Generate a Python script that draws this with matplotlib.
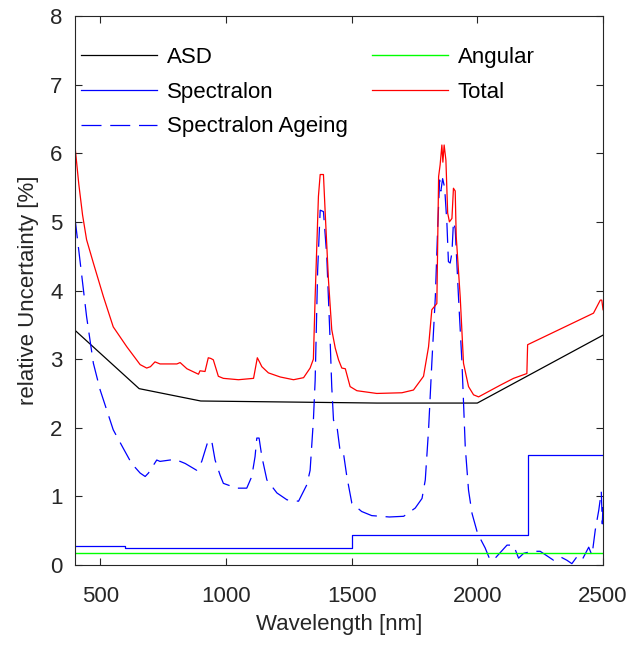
import matplotlib
matplotlib.use('Agg')
import matplotlib.pyplot as plt

plt.rcParams['font.family'] = ['Liberation Sans', 'DejaVu Sans']

# Data
asd_wl = [400, 655, 900, 1600, 2000, 2500]
asd_val = [3.42, 2.57, 2.39, 2.36, 2.36, 3.35]

spec_wl = [400, 600, 1500, 2200, 2500]
spec_val = [0.27, 0.25, 0.44, 1.60, 1.60]

ang_wl = [400, 2500]
ang_val = [0.17, 0.17]

age_wl = [400, 446, 473, 500, 526, 552, 592, 625, 659, 679,
          692, 725, 738, 798, 838, 884, 904, 930, 944, 957,
          977, 990, 1043, 1083, 1103, 1116, 1123, 1132, 1143, 1163,
          1203, 1243, 1289, 1322, 1335, 1348, 1355, 1365, 1375, 1388,
          1401, 1415, 1421, 1428, 1441, 1455, 1468, 1481, 1501, 1540,
          1580, 1650, 1707, 1753, 1780, 1793, 1806, 1819, 1833, 1842,
          1850, 1855, 1862, 1870, 1879, 1885, 1892, 1899, 1905, 1912,
          1925, 1939, 1952, 1965, 1979, 2001, 2031, 2051, 2071, 2118,
          2144, 2164, 2184, 2217, 2250, 2303, 2330, 2356, 2376, 2396,
          2416, 2443, 2456, 2469, 2483, 2493, 2497, 2500]
age_val = [5.05, 3.62, 2.94, 2.55, 2.26, 1.97, 1.70, 1.48, 1.34, 1.29,
           1.34, 1.53, 1.51, 1.54, 1.48, 1.38, 1.51, 1.82, 1.80, 1.53,
           1.31, 1.19, 1.12, 1.12, 1.29, 1.58, 1.85, 1.85, 1.58, 1.24,
           1.05, 0.95, 0.93, 1.17, 1.38, 2.11, 2.69, 4.30, 5.17, 5.15,
           4.51, 3.23, 2.60, 2.11, 2.04, 1.64, 1.62, 1.29, 0.90, 0.78,
           0.72, 0.70, 0.71, 0.83, 0.97, 1.24, 1.97, 2.94, 3.91, 4.88,
           5.61, 5.45, 5.63, 5.50, 4.98, 4.42, 4.40, 4.55, 5.00, 4.90,
           3.91, 2.94, 1.72, 1.09, 0.75, 0.46, 0.25, 0.07, 0.10, 0.29,
           0.29, 0.10, 0.17, 0.20, 0.20, 0.07, 0.12, 0.07, 0.02, 0.12,
           0.07, 0.26, 0.14, 0.51, 0.80, 1.07, 0.60, 0.90]

tot_wl = [400, 415, 430, 446, 473, 513, 552, 606, 659, 685, 700,
          718, 738, 805, 818, 845, 891, 897, 917, 930, 940,
          950, 970, 990, 1050, 1110, 1125, 1135, 1143, 1169, 1216,
          1269, 1309, 1335, 1348, 1355, 1368, 1375, 1388, 1395, 1408,
          1421, 1435, 1448, 1461, 1475, 1494, 1521, 1600, 1700, 1746,
          1786, 1806, 1819, 1839, 1846, 1852, 1859, 1863, 1868, 1875,
          1882, 1889, 1899, 1905, 1912, 1916, 1932, 1945, 1965, 1985,
          2005, 2091, 2144, 2197, 2200, 2462, 2489, 2495, 2500]
tot_val = [6.10, 5.55, 5.10, 4.74, 4.40, 3.91, 3.47, 3.18, 2.92, 2.87, 2.89,
           2.96, 2.93, 2.93, 2.95, 2.86, 2.78, 2.83, 2.82, 3.02, 3.01,
           2.99, 2.75, 2.72, 2.70, 2.72, 3.02, 2.95, 2.89, 2.80, 2.74,
           2.70, 2.73, 2.87, 3.00, 3.91, 5.37, 5.69, 5.69, 5.13, 4.15,
           3.43, 3.16, 2.99, 2.87, 2.86, 2.60, 2.54, 2.50, 2.51, 2.55,
           2.75, 3.18, 3.72, 3.81, 5.66, 5.83, 6.12, 5.87, 6.12, 5.90,
           5.13, 5.00, 5.05, 5.49, 5.45, 4.79, 3.90, 2.94, 2.60, 2.48,
           2.45, 2.62, 2.72, 2.79, 3.21, 3.67, 3.86, 3.86, 3.72]

fig = plt.figure(figsize=(6.32, 6.47), dpi=100)
ax = fig.add_axes([0.1187, 0.1267, 0.8355, 0.8486])

lw = 0.9
ax.plot(asd_wl, asd_val, color='black', lw=lw, label='ASD')
ax.step(spec_wl, spec_val, where='post', color='blue', lw=lw, label='Spectralon')
ax.plot(age_wl, age_val, color='blue', lw=lw, dashes=(16, 7), label='Spectralon Ageing')
ax.plot(ang_wl, ang_val, color='#00ff00', lw=1.0, label='Angular')
ax.plot(tot_wl, tot_val, color='red', lw=lw, label='Total')

ax.set_xlim(400, 2500)
ax.set_ylim(0, 8)
ax.set_xticks([500, 1000, 1500, 2000, 2500])
ax.set_yticks(range(0, 9))
ax.tick_params(direction='in', top=True, right=True, labelsize=16,
               color='#262626', labelcolor='#262626', length=5)
ax.tick_params(axis='x', pad=15)
ax.tick_params(axis='y', pad=9)
for s in ax.spines.values():
    s.set_color('#262626')
    s.set_linewidth(0.8)

ax.set_xlabel('Wavelength [nm]', fontsize=16, color='#262626', labelpad=5)
ax.set_ylabel('relative Uncertainty [%]', fontsize=16, color='#262626', labelpad=8)

ax.legend(ncol=2, loc='upper left', bbox_to_anchor=(0.012, 0.944), frameon=False,
          fontsize=16, handlelength=3.4, handletextpad=0.45, columnspacing=1.1,
          labelspacing=0.62, borderpad=0, borderaxespad=0)

plt.savefig('out.png', dpi=100)
